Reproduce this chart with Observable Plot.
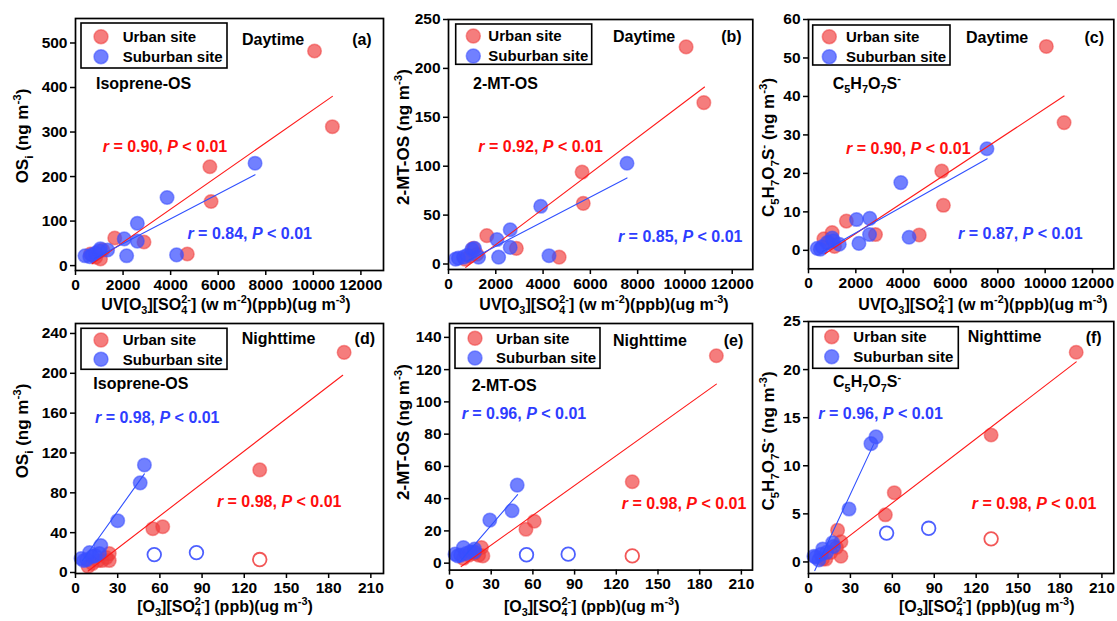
<!DOCTYPE html>
<html><head><meta charset="utf-8">
<script src="https://cdn.jsdelivr.net/npm/d3@7"></script>
<script src="https://cdn.jsdelivr.net/npm/@observablehq/plot@0.6"></script>
<style>
body{margin:0;background:#fff;}
#root{position:relative;width:1117px;height:621px;overflow:hidden;background:#fff;}
#root svg{position:absolute;overflow:visible;}
</style></head><body><div id="root"></div>
<script>
// ---------- data (x, y) ----------
const xTicksDay = [0, 2000, 4000, 6000, 8000, 10000, 12000];
const xTicksNight = [0, 30, 60, 90, 120, 150, 180, 210];

const urbanA = [[630,26],[850,19],[1050,15],[1150,35],[1650,62],[2880,53],[4700,26],[5650,222],[5700,144],[10050,482],[10800,312]];
const suburbanA = [[400,22],[600,20],[700,24],[850,28],[1000,33],[1050,38],[1350,35],[2050,60],[2150,22],[2600,95],[2600,55],[3850,153],[4250,24],[7550,230]];
const fitUrbanA = [[700,4],[10800,380]];
const fitSuburbanA = [[800,16],[7550,204]];

const urbanB = [[700,5],[900,8],[1050,16],[1200,10],[1620,29],[2870,16],[4680,7],[5650,94],[5700,62],[10050,222],[10800,165]];
const suburbanB = [[300,5],[420,6],[640,7],[800,9],[990,15],[1100,16],[1270,7],[2050,25],[2120,7],[2610,35],[2610,17],[3900,59],[4250,8.5],[7550,103]];
const fitUrbanB = [[730,-3.4],[10830,181]];
const fitSuburbanB = [[800,3],[7550,88]];

const urbanC = [[650,3],[850,2],[1000,4.6],[1100,1],[1600,7.6],[2830,4.1],[4680,4],[5630,20.6],[5700,11.7],[10050,53],[10800,33.2]];
const suburbanC = [[370,0.5],[500,0.3],[580,0.9],[790,2.0],[1000,3.2],[1050,2.5],[1300,1.6],[2030,8.0],[2130,1.8],[2590,8.3],[2580,4.1],[3900,17.6],[4250,3.4],[7540,26.4]];
const fitUrbanC = [[700,-0.9],[10800,40.1]];
const fitSuburbanC = [[600,-0.3],[7550,23.8]];

const urbanD = [[9,6],[12,9],[16,12],[19,12],[22,15],[24,12],[24,19],[55,44],[62,46],[131,103],[191,221]];
const urbanDOut = [[131,13]];
const suburbanD = [[4,14],[6,12],[8,13],[10,20],[12,16],[14,17],[17,19],[18,27],[30,52],[46,90],[49,108]];
const suburbanDOut = [[56,18],[86,20]];
const fitUrbanD = [[9,1.5],[190,198]];
const fitSuburbanD = [[5,12],[49,99]];

const urbanE = [[10,3],[14,5],[18,6],[21,5],[23,9.7],[24,4.5],[55,21],[61,26],[131.5,50.5],[192,128.6]];
const urbanEOut = [[131.5,4.5]];
const suburbanE = [[4,5.6],[6,4.5],[8,5],[10,9.7],[12,6],[15,7],[18,8.7],[18,7],[29,26.7],[45,32.5],[48.7,48.4]];
const suburbanEOut = [[55.4,5.2],[85.4,5.6]];
const fitUrbanE = [[8.4,-2.1],[192,111]];
const fitSuburbanE = [[7,0.5],[49,42.5]];

const urbanF = [[10,0.3],[12.4,0.3],[16,1],[20,1.5],[20.8,3.3],[23.2,2.1],[23.2,0.6],[55,4.9],[61.4,7.2],[130.7,13.2],[191.6,21.8]];
const urbanFOut = [[130.7,2.4]];
const suburbanF = [[3.9,0.6],[5.3,0.5],[7.4,0.2],[9,0.8],[10.2,1.35],[13,1],[17.3,2.0],[17.9,1.6],[29,5.5],[44.7,12.3],[48.3,13]];
const suburbanFOut = [[55.9,3.0],[86,3.5]];
const fitUrbanF = [[8.1,0.35],[191.6,20.8]];
const fitSuburbanF = [[4.5,-0.9],[46.5,12.2]];

const legendLabels = ["Urban site", "Suburban site"];
const rUrban = ["0.90","0.92","0.90","0.98","0.98","0.98"];
const rSuburban = ["0.84","0.85","0.87","0.98","0.96","0.96"];

// ---------- styles ----------
const FONT = "'Liberation Sans', Arial, Helvetica, sans-serif";
const RED = "#f03a3a", BLUE = "#3a4fff";
const RED_LINE = "#ff1a1a", BLUE_LINE = "#3050ff";
const RED_TXT = "#ff0d0d", BLUE_TXT = "#2e3dff";
const TICK_FS = 15.5;

const dayX = "UV[O_{3}][SO_{4}^{2-}] (w m^{-2})(ppb)(ug m^{-3})";
const nightX = "[O_{3}][SO_{4}^{2-}] (ppb)(ug m^{-3})";
const yOS = "OS_{i} (ng m^{-3})", yMT = "2-MT-OS (ng m^{-3})", yC5 = "C_{5}H_{7}O_{7}S^{-} (ng m^{-3})";

const panels = [
 {tag:"(a)", time:"Daytime", comp:"Isoprene-OS", frame:{l:75,t:18,r:383,b:270}, xd:[0,12950], xt:xTicksDay, yd:[-11,555], yt:d3.range(0,501,100),
  u:urbanA, s:suburbanA, uo:[], so:[], fu:fitUrbanA, fs:fitSuburbanA, ru:[1166,265.6], rs:[4728,71.2],
  tagP:[371.7,39], timeP:[242,39], compP:[96,83], yT:yOS, yTP:[21.7,136], xT:dayX, xTP:[226,304],
  leg:{x:81,y:23,w:146,h:45,cx:101,cy:[36.7,56.7],tx:122.7}},
 {tag:"(b)", time:"Daytime", comp:"2-MT-OS", frame:{l:447.7,t:19,r:752,b:269}, xd:[0,12870], xt:xTicksDay, yd:[-5.6,250], yt:d3.range(0,251,50),
  u:urbanB, s:suburbanB, uo:[], so:[], fu:fitUrbanB, fs:fitSuburbanB, ru:[1294,119.5], rs:[7200,27.3],
  tagP:[741.7,36.7], timeP:[613,36.7], compP:[473,83.3], yT:yMT, yTP:[402.7,137], xT:dayX, xTP:[604,304],
  leg:{x:455.7,y:24,w:136,h:40.3,cx:473.3,cy:[36,56],tx:488.3}},
 {tag:"(c)", time:"Daytime", comp:"C_{5}H_{7}O_{7}S^{-}", frame:{l:807.7,t:19,r:1113,b:268.3}, xd:[0,12900], xt:xTicksDay, yd:[-4.8,60], yt:d3.range(0,61,10),
  u:urbanC, s:suburbanC, uo:[], so:[], fu:fitUrbanC, fs:fitSuburbanC, ru:[1619,26.4], rs:[6355,4.3],
  tagP:[1104,37], timeP:[966,37], compP:[832.7,83], yT:yC5, yTP:[768,147.5], xT:dayX, xTP:[983,304],
  leg:{x:812.7,y:25,w:137.3,h:40,cx:829.3,cy:[36.7,56.7],tx:846}},
 {tag:"(d)", time:"Nighttime", comp:"Isoprene-OS", frame:{l:75,t:322.7,r:383,b:572.7}, xd:[0,219], xt:xTicksNight, yd:[-1,250], yt:d3.range(0,241,40),
  u:urbanD, s:suburbanD, uo:urbanDOut, so:suburbanDOut, fu:fitUrbanD, fs:fitSuburbanD, ru:[100.9,70.2], rs:[14.2,155.4],
  tagP:[375,338.3], timeP:[241.7,338.3], compP:[93.3,383.3], yT:yOS, yTP:[21.7,431], xT:nightX, xTP:[225,606],
  leg:{x:81,y:328.3,w:146,h:41,cx:101,cy:[340,359.3],tx:122.7}},
 {tag:"(e)", time:"Nighttime", comp:"2-MT-OS", frame:{l:449,t:322.7,r:752,b:569.3}, xd:[0,218], xt:xTicksNight, yd:[-4.3,148.6], yt:d3.range(0,141,20),
  u:urbanE, s:suburbanE, uo:urbanEOut, so:suburbanEOut, fu:fitUrbanE, fs:fitSuburbanE, ru:[124.3,36.6], rs:[9.1,92.4],
  tagP:[743.3,340], timeP:[613,340.7], compP:[471.7,385], yT:yMT, yTP:[402.7,432], xT:nightX, xTP:[591.7,606],
  leg:{x:455,y:327.7,w:145,h:40.6,cx:475,cy:[338.3,358],tx:496}},
 {tag:"(f)", time:"Nighttime", comp:"C_{5}H_{7}O_{7}S^{-}", frame:{l:807.7,t:320.7,r:1113,b:572.7}, xd:[0,218.5], xt:xTicksNight, yd:[-1.2,25], yt:d3.range(0,26,5),
  u:urbanF, s:suburbanF, uo:urbanFOut, so:suburbanFOut, fu:fitUrbanF, fs:fitSuburbanF, ru:[117.4,6.0], rs:[7.6,15.4],
  tagP:[1101.7,337.7], timeP:[967.7,336.7], compP:[833,381.7], yT:yC5, yTP:[768,441], xT:nightX, xTP:[986.7,606],
  leg:{x:812.7,y:326.7,w:145.6,h:41.6,cx:831.7,cy:[336.7,356.7],tx:853.3}}
];

const root = document.getElementById("root");
const overlay = d3.create("svg").attr("width",1117).attr("height",621)
  .style("left","0px").style("top","0px")
  .attr("font-family", FONT).attr("font-weight","bold");

// rich text with _{sub} and ^{sup}; sup right after sub is stacked
function rich(text, str, fs) {
  const re = /([_^])\{([^}]*)\}|([^_^]+)/g;
  let m, cur = 0, prevSub = null;
  text.attr("font-size", fs);
  while ((m = re.exec(str))) {
    const kind = m[1] ? (m[1] === "_" ? "sub" : "sup") : "n";
    const s = m[1] ? m[2] : m[3];
    const target = kind === "sub" ? 0.3 * fs : kind === "sup" ? -0.42 * fs : 0;
    const t = text.append("tspan").text(s).attr("dy", target - cur);
    if (kind !== "n") t.attr("font-size", 0.68 * fs);
    if (kind === "sup" && prevSub) t.attr("dx", -prevSub.node().getComputedTextLength());
    cur = target;
    prevSub = kind === "sub" ? t : null;
  }
}

const ML = 80, MT = 20, MR = 8, MB = 60;
const xy = {x: d => d[0], y: d => d[1]};
const plots = [];
panels.forEach((p, i) => {
  const f = p.frame;
  const plot = Plot.plot({
    width: (f.r - f.l) + ML + MR, height: (f.b - f.t) + MT + MB,
    marginLeft: ML, marginTop: MT, marginRight: MR, marginBottom: MB,
    style: {fontFamily: FONT, fontSize: TICK_FS + "px", fontWeight: "bold", color: "#000", background: "transparent", overflow: "visible"},
    x: {domain: p.xd, label: null},
    y: {domain: p.yd, label: null},
    marks: [
      Plot.axisX({ticks: p.xt, tickFormat: d => String(d), tickSize: 5, tickPadding: 3, strokeWidth: 1.5, fontSize: TICK_FS, fontWeight: "bold", label: null}),
      Plot.axisY({ticks: p.yt, tickFormat: d => String(d), tickSize: 5, tickPadding: 3, strokeWidth: 1.5, fontSize: TICK_FS, fontWeight: "bold", label: null}),
      Plot.dot(p.u, {...xy, r: 6.8, fill: RED, fillOpacity: 0.66, stroke: RED, strokeOpacity: 0.5, strokeWidth: 1.5}),
      Plot.dot(p.s, {...xy, r: 6.8, fill: BLUE, fillOpacity: 0.72, stroke: BLUE, strokeOpacity: 0.55, strokeWidth: 1.5}),
      Plot.dot(p.uo, {...xy, r: 6.8, fill: "white", stroke: RED, strokeOpacity: 0.85, strokeWidth: 1.8}),
      Plot.dot(p.so, {...xy, r: 6.8, fill: "white", stroke: BLUE, strokeOpacity: 0.9, strokeWidth: 1.8}),
      Plot.line(p.fu, {...xy, stroke: RED_LINE, strokeWidth: 1.1}),
      Plot.line(p.fs, {...xy, stroke: BLUE_LINE, strokeWidth: 1.1}),
      Plot.frame({stroke: "#000", strokeWidth: 1.7})
    ]
  });
  const ox = f.l - ML, oy = f.t - MT;
  plot.style.left = ox + "px";
  plot.style.top = oy + "px";
  root.appendChild(plot);
  plots.push({plot, ox, oy, p, i});
});
root.appendChild(overlay.node());

plots.forEach(({plot, ox, oy, p, i}) => {
  const sx = plot.scale("x"), sy = plot.scale("y");
  const g = overlay.append("g");
  // legend
  const L = p.leg;
  g.append("rect").attr("x", L.x).attr("y", L.y).attr("width", L.w).attr("height", L.h)
    .attr("fill", "white").attr("stroke", "#000").attr("stroke-width", 1.6);
  [[RED, 0.66, 0.5], [BLUE, 0.72, 0.55]].forEach(([c, fo, so], k) => {
    g.append("circle").attr("cx", L.cx).attr("cy", L.cy[k]).attr("r", 7)
      .attr("fill", c).attr("fill-opacity", fo).attr("stroke", c).attr("stroke-opacity", so).attr("stroke-width", 1.5);
    g.append("text").attr("x", L.tx).attr("y", L.cy[k] + 5.3).attr("font-size", 15).text(legendLabels[k]);
  });
  // labels
  g.append("text").attr("x", p.tagP[0]).attr("y", p.tagP[1] + 5.6).attr("text-anchor", "end").attr("font-size", 16).text(p.tag);
  g.append("text").attr("x", p.timeP[0]).attr("y", p.timeP[1] + 5.6).attr("font-size", 16).text(p.time);
  rich(g.append("text").attr("x", p.compP[0]).attr("y", p.compP[1] + 5.6), p.comp, 16);
  // r annotations
  const ann = (pos, val, color) => {
    const t = g.append("text").attr("x", sx.apply(pos[0]) + ox).attr("y", sy.apply(pos[1]) + oy + 5.6)
      .attr("fill", color).attr("font-size", 16);
    t.append("tspan").attr("font-style", "italic").text("r");
    t.append("tspan").text(" = " + val + ", ");
    t.append("tspan").attr("font-style", "italic").text("P");
    t.append("tspan").text(" < 0.01");
  };
  ann(p.ru, rUrban[i], RED_TXT);
  ann(p.rs, rSuburban[i], BLUE_TXT);
  // axis titles
  const yt = g.append("text").attr("text-anchor", "middle")
    .attr("transform", `translate(${p.yTP[0] + 6},${p.yTP[1]}) rotate(-90)`);
  rich(yt, p.yT, 17);
  const xtt = g.append("text").attr("text-anchor", "middle").attr("x", p.xTP[0]).attr("y", p.xTP[1] + 5.6);
  rich(xtt, p.xT, 16);
});
</script></body></html>
